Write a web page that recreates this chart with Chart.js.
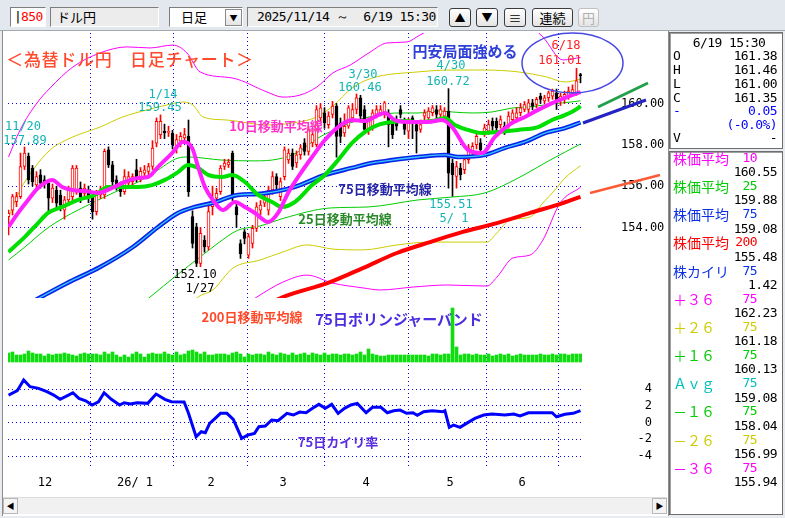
<!DOCTYPE html>
<html lang="ja">
<head>
<meta charset="utf-8">
<title>ドル円 日足チャート</title>
<script src="https://cdn.jsdelivr.net/npm/chart.js@4.4.1/dist/chart.umd.min.js"></script>
<style>
  html, body { margin: 0; padding: 0; }
  body { width: 785px; height: 518px; overflow: hidden; position: relative; background: #e8ecf1;
         font-family: "Noto Sans CJK JP", sans-serif; font-size: 13px; color: #000; }
  .abs { position: absolute; white-space: pre; line-height: 16px; z-index: 6; }
  .num { font-family: "DejaVu Sans Mono", monospace; font-size: 13px; letter-spacing: -0.6px; }
  #toolbar { position: absolute; left: 0; top: 0; width: 785px; height: 30px; background: #e3e8ee; border-bottom: 1px solid #a4a9b0; z-index: 5; }
  .fld { position: absolute; top: 7px; height: 20px; box-sizing: border-box; border: 1px solid; border-color: #7d7d7d #ffffff #ffffff #7d7d7d; }
  .btn { position: absolute; top: 8px; height: 19px; box-sizing: border-box; border: 1px solid #3c3c3c; border-radius: 3px;
         background: linear-gradient(#ffffff, #e4e4e4); text-align: center; line-height: 17px; font-size: 13px; }
  #main { position: absolute; left: 2px; top: 31px; width: 665px; height: 485px; background: #fff; border-left: 1px solid #8c8c8c; border-right: 1px solid #8c8c8c; z-index: 1; }
  #wrap { position: absolute; left: 5px; top: 26px; width: 660px; height: 469px; z-index: 2; }
  #scroll { position: absolute; left: 3px; top: 497px; width: 664px; height: 16px; background: #f1f1f1; border-top: 1px solid #dcdcdc; z-index: 3; }
  .arrow { position: absolute; top: 0; width: 15px; height: 16px; border: 1px solid #b8b8b8; box-sizing: border-box; background: #f4f4f4; font-size: 8px; line-height: 14px; text-align: center; }
  .box { position: absolute; left: 669px; width: 114px; background: #fff; border: 1px solid #6e6e6e; box-shadow: inset 1px 1px 0 #a0a0a0; box-sizing: border-box; z-index: 1; }
  .note { position: absolute; transform: translate(-50%, -50%); white-space: pre; z-index: 6; line-height: 1; }
</style>
</head>
<body>
<div id="toolbar">
  <div class="fld" style="left:10px;width:36px;background:#fff"></div>
  <div class="fld" style="left:50px;width:109px;background:#ececec"></div>
  <div class="fld" style="left:169px;width:74px;background:#fff"></div>
  <div class="btn" style="left:225px;top:9px;width:17px;height:17px;border-radius:0;border-color:#8a8a8a;font-size:8px;line-height:15px">▼</div>
  <div class="fld" style="left:247px;width:191px;background:#ececec"></div>
  <div class="btn" style="left:449px;width:22px;font-size:11px">▲</div>
  <div class="btn" style="left:476px;width:22px;font-size:11px">▼</div>
  <div class="btn" style="left:504px;width:22px">≡</div>
  <div class="btn" style="left:532px;width:41px">連続</div>
  <div class="btn" style="left:578px;width:21px;color:#b0b0b0;border-color:#c0c0c0">円</div>
</div>
<div id="main"></div>
<div id="wrap"><canvas id="chart" width="660" height="469"></canvas></div>
<div id="scroll">
  <div class="arrow" style="left:0">◀</div>
  <div class="arrow" style="right:0">▶</div>
</div>
<div class="box" style="top:32px;height:117px"></div>
<div class="box" style="top:151px;height:364px"></div>
<svg class="abs" style="left:0;top:0;pointer-events:none" width="785" height="518">
  <ellipse cx="572.5" cy="63" rx="50.5" ry="30" fill="none" stroke="#4848e0" stroke-width="1.5"/>
  <line x1="598" y1="107" x2="648" y2="83" stroke="#23a04c" stroke-width="3"/>
  <line x1="583" y1="123" x2="646" y2="100" stroke="#2323c4" stroke-width="3"/>
  <line x1="590" y1="193" x2="660" y2="175" stroke="#ff5a36" stroke-width="2.5"/>
</svg>

<script>
// x axis: months (bar index of each month start)
const monthPos = [9.125, 31.625, 50.625, 68.625, 89.375, 110.375, 128.375];
const monthLabels = ['12', '26/ 1', '2', '3', '4', '5', '6'];
const priceTicks = [160, 158, 156, 154];
const kairiTicks = [4, 2, 0, -2, -4];

// daily candles 2025/11 - 2026/6/19
const open = [154.52,154.84,155.25,155.49,156.95,157.44,156.87,156.06,156.54,156.30,
  156.14,155.41,155.81,155.57,154.84,155.33,155.49,155.81,155.90,155.65,
  155.81,155.49,154.76,155.57,155.57,157.76,157.03,156.30,156.06,155.73,
  156.14,156.22,156.79,156.46,156.63,156.71,156.95,158.08,158.49,158.65,
  158.60,158.57,157.92,158.17,158.33,158.41,154.52,154.03,152.25,153.39,
  153.06,155.00,155.41,155.73,156.95,157.03,157.60,155.00,153.22,153.79,
  152.65,153.22,153.95,154.84,155.17,154.84,155.81,156.46,155.49,156.46,
  157.27,157.60,157.12,157.52,158.09,157.68,158.09,158.01,159.30,159.55,
  158.98,159.47,159.87,159.06,158.57,158.90,159.30,159.71,160.28,159.71,
  158.74,158.90,159.47,159.55,159.55,159.55,159.06,159.22,159.71,159.14,
  158.66,159.30,158.98,158.74,159.39,159.30,159.55,159.71,159.47,159.39,
  159.63,157.12,156.47,156.87,156.79,157.28,157.68,158.01,158.09,158.57,
  158.66,159.14,159.14,158.98,158.90,158.98,159.22,159.30,159.55,159.71,
  159.71,160.03,159.95,160.36,160.12,160.28,160.36,160.52,160.12,160.20,
  160.36,160.52,160.50,161.38];
const high = [154.84,155.60,155.70,157.60,157.89,157.60,157.00,156.70,156.80,156.50,
  156.30,156.10,156.00,155.80,155.50,156.00,157.00,157.00,156.20,156.10,
  156.00,155.70,155.80,156.00,157.80,157.90,157.20,156.50,156.20,156.80,
  156.70,156.60,157.30,156.90,157.00,157.10,158.20,159.30,159.45,159.00,
  158.90,158.70,158.50,158.60,158.80,159.20,154.80,154.20,154.00,153.60,
  155.10,156.00,155.90,157.00,157.30,157.30,157.70,155.20,153.40,153.90,
  153.70,154.10,155.20,155.30,155.70,156.00,156.70,156.60,156.40,157.90,
  157.80,157.80,157.70,158.00,158.30,158.90,158.80,159.90,160.00,159.80,
  159.60,160.10,160.00,159.30,159.50,159.90,160.00,160.46,160.40,159.90,
  159.30,159.70,159.90,159.90,160.10,159.70,159.20,159.40,159.90,159.30,
  159.30,159.40,159.10,159.20,159.70,159.80,159.90,159.90,159.90,159.80,
  160.72,157.30,157.20,157.10,157.50,158.00,158.10,158.60,158.30,159.00,
  159.20,159.30,159.30,159.40,159.10,159.60,159.70,159.80,160.00,160.10,
  160.20,160.20,160.30,160.50,160.40,160.60,160.70,160.70,160.50,160.60,
  160.80,160.90,161.70,161.46];
const low = [153.63,154.60,155.00,155.40,156.80,156.10,156.00,155.90,155.90,155.90,
  154.80,155.20,154.90,154.80,154.40,155.10,155.30,155.60,155.20,155.40,
  155.20,154.40,154.60,155.40,155.40,156.90,156.00,155.80,155.50,155.60,
  155.90,156.00,156.20,156.20,156.40,156.50,156.80,157.90,158.30,158.30,
  158.40,157.80,157.60,157.90,158.20,155.50,153.00,152.10,152.10,152.80,
  152.90,154.60,155.20,155.60,156.80,156.90,155.30,154.00,152.50,153.20,
  152.50,153.00,153.80,154.60,155.00,154.60,155.60,155.80,155.30,156.30,
  157.10,156.80,156.90,157.30,157.50,157.50,157.90,157.90,159.10,158.80,
  158.80,159.30,157.40,158.10,158.40,158.80,159.10,159.50,159.20,158.60,
  158.50,158.70,159.30,159.40,159.30,157.90,158.30,158.70,159.30,158.50,
  158.30,158.30,157.60,158.60,159.20,159.10,159.40,159.30,159.30,159.20,
  155.90,155.51,155.90,156.30,156.60,157.10,157.50,157.80,157.60,158.40,
  158.50,158.70,158.60,158.80,158.50,158.80,159.00,159.10,159.40,159.60,
  159.50,159.70,159.80,160.00,160.00,160.10,160.20,159.71,159.90,160.00,
  160.20,160.40,160.40,161.00];
const close = [154.68,155.49,155.49,156.95,157.60,156.30,156.22,156.46,156.14,156.14,
  155.41,155.90,155.17,155.08,155.33,155.81,156.87,156.87,155.49,155.90,
  155.49,154.76,155.57,155.81,157.68,157.03,156.22,155.98,155.73,156.46,
  156.46,156.46,156.38,156.71,156.79,156.95,157.84,159.14,159.14,158.57,
  158.65,158.00,158.25,158.41,158.49,155.73,153.22,152.25,153.71,153.06,
  154.76,155.33,155.65,156.87,157.11,157.16,155.49,154.60,152.73,153.47,
  153.55,153.95,155.00,155.08,155.49,155.81,156.46,156.06,156.22,157.76,
  157.60,156.95,157.52,157.85,157.68,158.74,158.50,159.71,159.79,159.06,
  159.39,159.87,158.40,158.41,158.90,159.79,159.71,160.28,159.39,158.74,
  159.14,159.55,159.71,159.71,160.03,158.98,158.49,158.90,159.47,158.74,
  159.06,159.06,158.66,158.98,159.55,159.63,159.79,159.47,159.71,159.63,
  156.63,156.55,156.95,156.55,157.28,157.85,157.93,158.41,157.76,158.82,
  158.98,158.90,158.82,159.22,158.66,159.39,159.55,159.55,159.79,159.95,
  160.03,159.87,160.20,160.20,160.28,160.52,160.60,160.20,160.36,160.44,
  160.60,160.68,161.10,161.35];
const volume = [9,10,7,7,8,11,9,8,8,6, 8,7,8,8,9,8,7,6,8,9, 8,8,8,7,10,8,10,7,5,7,
  5,8,10,8,5,8,9,8,8,10, 8,7,10,7,8,11,12,10,8,10, 7,7,8,8,8,7,9,10,8,5,
  8,7,8,8,7,10,8,7,9,8, 7,9,7,8,9,7,9,8,7,9, 7,8,8,7,8,8,7,8,10,7,
  13,8,7,6,6,7,7,7,7,7, 7,7,7,7,7,6,8,8,7,8, 8,54,15,7,8,8,7,8,7,7,
  8,6,7,8,7,8,6,7,8,7, 7,7,7,8,7,7,8,7,8,8, 7,8,8,8];

// moving averages (bar index, price)
const ma10X = [0,2.4,4.9,7.4,10.9,13.4,15.9,19.1,22.4,25.9,29.1,32.4,34.9,37.4,40.9,43.6,45.9,47.4,49.1,51.1,53.6,56.6,59.1,61.6,64.9,67.4,69.9,72.4,75.9,79.1,82.4,85.9,89.1,92.4,94.1,96.6,100.9,104.9,108.4,110.9,114.9,118.4,121.6,125.9,129.1,132.4,135.9,139.1,142.4,143];
const ma10 = [154.02,154.70,155.33,155.91,156.30,155.96,155.81,155.76,155.67,155.91,156.20,156.39,156.44,156.93,157.60,158.14,157.85,156.93,155.96,155.33,154.84,155.23,154.99,154.70,154.26,154.70,155.67,156.44,157.41,158.23,158.86,159.20,159.15,159.44,159.54,159.20,159.10,159.10,159.20,158.86,157.75,157.60,158.38,159.06,159.35,159.69,160.02,160.27,160.51,160.55];
const ma25X = [0,4.1,7.4,9.9,13.4,17.4,21.6,24.9,28.4,32.4,35.9,39.1,42.4,44.9,47.4,49.9,53.4,55.9,59.1,62.4,65.9,68.4,71.6,75.9,79.1,82.4,85.9,89.1,92.4,95.9,99.1,102.4,105.9,109.1,111.6,114.9,118.4,122.4,127.4,132.4,135.9,139.1,142.4,143];
const ma25 = [152.81,153.54,154.21,154.70,154.99,155.33,155.57,155.96,155.96,155.96,156.05,156.30,156.68,157.02,156.88,156.54,156.44,156.54,156.20,155.57,155.23,154.99,155.23,156.05,156.54,157.26,158.09,158.62,158.96,159.10,159.15,159.10,159.15,159.30,158.96,158.72,158.57,158.62,158.72,158.86,159.20,159.44,159.78,159.88];
const ma75X = [0,8.6,14.6,22.9,31.1,37.4,42.4,46.6,50.9,57.4,62.4,67.4,71.6,79.1,85.9,90.9,95.9,102.4,109.1,112.4,119.1,124.1,129.1,134.1,139.1,143];
const ma75 = [149.76,150.68,151.30,152.08,153.05,154.02,154.70,154.99,155.18,155.57,155.62,155.76,155.96,156.54,156.88,157.12,157.26,157.41,157.51,157.41,157.51,157.85,158.14,158.57,158.81,159.08];
const ma200X = [65.4,68.6,80.4,88.6,97.1,105.4,113.6,122.1,130.4,138.6,143];
const ma200 = [150.34,150.63,151.35,152.03,152.76,153.29,153.78,154.21,154.70,155.18,155.48];

// 75-day bollinger bands
const bbP1X = [0,4.1,9.1,14.1,20.9,26.6,32.4,36.6,42.4,44.9,53.4,61.6,67.4,71.9,77.4,82.4,87.4,92.4,97.4,102.4,107.4,110.9,115.9,120.9,125.9,130.9,135.9,140.9,143];
const bbP1 = [152.42,153.05,153.87,154.50,155.18,155.71,156.20,156.68,157.36,157.41,157.26,157.22,157.31,157.60,158.33,158.81,159.20,159.44,159.54,159.54,159.64,159.59,159.54,159.59,159.78,159.85,159.98,160.08,160.13];
const bbP2X = [0,2.9,6.1,10.4,16.1,22.9,28.6,34.6,39.6,43.6,46.1,48.6,54.6,64.6,71.1,77.1,81.1,85.9,90.9,102.4,110.9,119.1,127.4,134.6,139.1,143];
const bbP2 = [154.50,155.81,156.78,157.75,158.38,158.86,159.35,159.69,159.93,160.07,159.93,159.35,159.20,158.96,159.06,159.35,159.88,160.75,161.23,161.53,161.62,161.62,161.53,161.28,161.04,161.18];
const bbP3X = [0,2.9,7.1,10.4,16.1,22.9,29.6,35.4,41.1,44.6,47.9,56.1,64.6,68.6,72.9,77.1,81.1,85.4,90.4,94.6,99.6,102.9,106.6,115.4,125.4,131.6,133.6,138.6,143];
const bbP3 = [157.41,158.72,160.02,160.75,161.77,162.45,162.74,162.69,162.83,162.45,161.53,161.23,160.56,160.31,160.41,160.80,161.48,161.86,162.49,162.93,162.98,163.32,163.66,163.80,163.80,163.56,163.22,162.11,162.23];
const bbM1X = [32.9,35.4,42.1,47.9,52.4,57.4,62.9,69.1,80.4,89.9,102.4,110.9,119.1,127.4,135.4,143];
const bbM1 = [150.24,150.63,151.69,152.57,153.24,153.87,154.07,154.46,154.94,154.99,155.33,155.47,155.67,156.39,157.26,158.04];
const bbM2X = [45.4,47.4,51.1,56.1,62.9,68.6,74.6,81.1,88.6,97.1,105.4,119.6,122.1,125.4,130.4,133.6,136.6,139.1,143];
const bbM2 = [150.24,150.63,150.97,152.03,152.42,152.81,153.15,152.95,152.91,153.15,153.29,153.29,153.73,154.36,154.50,155.18,155.81,156.39,156.99];
const bbM3X = [59.1,62.1,68.6,74.6,81.1,88.6,92.9,101.1,109.6,119.6,122.1,126.1,130.4,133.6,137.9,143];
const bbM3 = [150.24,150.63,151.35,151.69,151.30,151.07,150.97,151.11,151.21,151.16,151.59,152.52,152.66,153.39,155.18,155.94];

// 75-day deviation rate (%)
const kairiX = [0,2.2,3.8,5.4,7.5,9.6,11.3,12.9,15,16.1,17.6,19.3,20.9,22.5,23.9,25.7,27.8,28.9,30.5,32.1,
  34.8,36.9,39.1,40.7,43.9,45,46.9,48.2,49.2,50.3,51.4,53,54.6,56.2,58.3,59.9,61.5,62.6,64.2,65.8,
  67.4,69.6,71.2,72.8,74.4,76,77.6,79.2,80.8,82.4,84,85.6,87.2,89.4,91,93.1,94.7,96.3,97.9,99.5,
  101.1,102.2,103.8,105.9,108.6,109.1,110.2,111.3,112.9,114.5,116.6,118.8,120.9,124.1,126.3,127.9,130,132.7,135.9,137,
  139.1,141.2,143];
const kairi = [3.28,3.80,5.07,4.28,4.08,3.68,3.28,2.77,3.28,3.56,2.89,2.60,2.09,2.48,3.56,2.77,2.09,2.36,2.21,2.36,
  2.29,3.40,2.77,2.48,2.45,1.10,-1.70,-1.10,-1.22,-0.10,0.38,1.10,1.10,0.38,-1.89,-1.49,-1.29,-0.50,-0.42,0.30,
  0.21,1.10,0.90,1.25,1.17,1.70,2.17,1.70,2.17,1.10,1.70,2.09,2.29,1.17,1.81,1.81,1.17,1.41,1.49,1.10,
  1.17,0.86,1.29,1.41,1.29,1.41,-0.57,-0.30,-0.57,-0.10,0.50,0.90,1.01,0.90,1.01,0.78,1.17,1.17,1.17,0.69,
  0.98,1.10,1.42];

// side panel
const quote = [['O', '161.38'], ['H', '161.46'], ['L', '161.00'], ['C', '161.35']];
const sideRows = [
  ['株価平均', '10', '160.55', '#ff00ff'],
  ['株価平均', '25', '159.88', '#00cc00'],
  ['株価平均', '75', '159.08', '#0a2fe6'],
  ['株価平均', '200', '155.48', '#ff0000'],
  ['株カイリ', '75', '1.42', '#0a2fe6'],
  ['＋３６', '75', '162.23', '#ff00ff'],
  ['＋２６', '75', '161.18', '#cccc00'],
  ['＋１６', '75', '160.13', '#00cc00'],
  ['Ａｖｇ', '75', '159.08', '#00c0c0'],
  ['－１６', '75', '158.04', '#00cc00'],
  ['－２６', '75', '156.99', '#cccc00'],
  ['－３６', '75', '155.94', '#ff00ff'],
];

function put(text, x, y, o = {}) {
  const d = document.createElement('div');
  d.textContent = text;
  d.className = 'abs' + (o.cls ? ' ' + o.cls : '');
  d.style.top = (y - 8) + 'px';
  if (o.align === 'right') d.style.right = (785 - x) + 'px';
  else if (o.align === 'center') { d.style.left = x + 'px'; d.style.transform = 'translateX(-50%)'; }
  else d.style.left = x + 'px';
  if (o.color) d.style.color = o.color;
  if (o.size) d.style.fontSize = o.size;
  document.body.appendChild(d);
}

// toolbar texts
put('|', 14, 17, { cls: 'num' });
put('850', 21, 17, { cls: 'num', color: '#ff0000' });
put('ドル円', 57, 17);
put('日足', 194, 17, { align: 'center' });
put('2025/11/14 ～  6/19 15:30', 257, 17, { cls: 'num' });

// quote box
put('6/19 15:30', 729, 43, { cls: 'num', align: 'center' });
quote.forEach(([k, v], i) => {
  put(k, 673, 56 + i * 14, { cls: 'num' });
  put(v, 777, 56 + i * 14, { cls: 'num', align: 'right' });
});
put('-', 673, 111, { cls: 'num', color: '#0000ff' });
put('0.05', 777, 111, { cls: 'num', align: 'right', color: '#0000ff' });
put('(-0.0%)', 777, 125, { cls: 'num', align: 'right', color: '#0000ff' });
put('V', 673, 138, { cls: 'num' });
put('-', 777, 138, { cls: 'num', align: 'right' });

// indicator box
sideRows.forEach(([name, n, v, c], i) => {
  const y = 158 + i * 28.15;
  put(name, 673, y, { color: c, size: '14px' });
  put(n, 757, y, { cls: 'num', align: 'right', color: c });
  put(v, 777, y + 14.3, { cls: 'num', align: 'right' });
});

// chart annotations (text)
const mono = '12px "DejaVu Sans Mono"';
const cjkB = 'bold 13px "Noto Sans CJK JP"';
const notes = [
  ['＜為替ドル円　日足チャート＞', 130, 58, '#ff4a2e', '500 17px "Noto Sans CJK JP"', '0.7px'],
  ['円安局面強める', 465, 50, '#2e3fd8', 'bold 15px "Noto Sans CJK JP"'],
  ['6/18', 566, 45, '#ff2020', mono],
  ['161.01', 560, 60, '#ff2020', mono],
  ['11/20', 23, 126, '#14b4b4', mono],
  ['157.89', 25, 140, '#14b4b4', mono],
  ['1/14', 163, 94, '#14b4b4', mono],
  ['159.45', 160, 107, '#14b4b4', mono],
  ['3/30', 363, 74, '#14b4b4', mono],
  ['160.46', 360, 87, '#14b4b4', mono],
  ['4/30', 451, 65, '#14b4b4', mono],
  ['160.72', 448, 81, '#14b4b4', mono],
  ['155.51', 451, 204, '#14b4b4', mono],
  ['5/ 1', 454, 218, '#14b4b4', mono],
  ['152.10', 195, 274, '#000000', mono],
  ['1/27', 200, 288, '#000000', mono],
  ['10日移動平均線', 276, 125, '#ff33cc', cjkB],
  ['75日移動平均線', 385, 188, '#2525a5', cjkB],
  ['25日移動平均線', 345, 218, '#2a8a2a', cjkB],
  ['200日移動平均線', 252, 316, '#ff4a2a', cjkB],
  ['75日ボリンジャーバンド', 399, 318, '#4a2ee0', 'bold 15px "Noto Sans CJK JP"'],
  ['75日カイリ率', 338, 441, '#5a2ee0', cjkB],
];
notes.forEach(([t, x, y, c, f, ls]) => {
  const d = document.createElement('div');
  d.className = 'note';
  d.textContent = t;
  d.style.left = x + 'px';
  d.style.top = y + 'px';
  d.style.color = c;
  d.style.font = f;
  if (ls) d.style.letterSpacing = ls;
  document.body.appendChild(d);
});

// ---- chart ----
Chart.defaults.font.family = '"DejaVu Sans Mono", monospace';
Chart.defaults.font.size = 12;
Chart.defaults.color = '#000';

const idx = open.map((_, i) => i);
const up = close.map((c, i) => c >= open[i]);
const pts = (xs, ys) => xs.map((x, i) => ({ x, y: ys[i] }));
const paneClip = { left: 0, top: 0, right: 0, bottom: -169 }; // price pane ends above volume

function priceLine(xs, ys, color, width, order) {
  return {
    type: 'line', data: pts(xs, ys), yAxisID: 'y', borderColor: color, borderWidth: width,
    pointRadius: 0, cubicInterpolationMode: 'monotone', order, clip: paneClip
  };
}

const dotted = { display: false, dash: [1, 3] };

const kairiLabels = {
  id: 'kairiLabels',
  afterDraw(chart) {
    const s = chart.scales.yk, ctx = chart.ctx;
    ctx.save();
    ctx.font = '12px "DejaVu Sans Mono"';
    ctx.fillStyle = '#000';
    ctx.textAlign = 'right';
    ctx.textBaseline = 'middle';
    kairiTicks.forEach(v => ctx.fillText(String(v), chart.chartArea.right + 70, s.getPixelForValue(v)));
    ctx.restore();
  }
};

new Chart(document.getElementById('chart'), {
  type: 'line',
  data: {
    datasets: [
      // bollinger bands
      priceLine(bbP3X, bbP3, '#ff00ff', 1, 60),
      priceLine(bbP2X, bbP2, '#cccc00', 1, 60),
      priceLine(bbP1X, bbP1, '#00cc00', 1, 60),
      priceLine(bbM1X, bbM1, '#00cc00', 1, 60),
      priceLine(bbM2X, bbM2, '#cccc00', 1, 60),
      priceLine(bbM3X, bbM3, '#ff00ff', 1, 60),
      // candles
      {
        type: 'bar', data: idx.map(i => ({ x: i, y: [low[i], high[i]] })), yAxisID: 'y',
        barThickness: 1, grouped: false, borderWidth: 0,
        backgroundColor: up.map(u => u ? '#ff0000' : '#000000'), order: 50
      },
      {
        type: 'bar', data: idx.map(i => ({ x: i, y: [open[i], close[i]] })), yAxisID: 'y',
        barThickness: 3, grouped: false, borderWidth: 1, borderSkipped: false, minBarLength: 1,
        backgroundColor: up.map(u => u ? '#ffffff' : '#000000'),
        borderColor: up.map(u => u ? '#ff0000' : '#000000'), order: 45
      },
      // volume
      {
        type: 'bar', data: idx.map(i => ({ x: i, y: volume[i] })), yAxisID: 'yv',
        barThickness: 3, grouped: false, backgroundColor: '#10dd10', order: 55
      },
      // moving averages
      priceLine(ma200X, ma200, '#ff0000', 4, 20),
      priceLine(ma75X, ma75, '#0a22e8', 4.5, 16),
      priceLine(ma75X, ma75, '#38c8ff', 1.3, 15),
      priceLine(ma25X, ma25, '#00e000', 4, 12),
      priceLine(ma10X, ma10, '#ff22ff', 4, 10),
      // deviation rate
      {
        type: 'line', data: pts(kairiX, kairi), yAxisID: 'yk', borderColor: '#0000ff', borderWidth: 3,
        pointRadius: 0, tension: 0, order: 5
      }
    ]
  },
  options: {
    responsive: false,
    animation: false,
    events: [],
    layout: { padding: { left: 3, top: 7, right: 0, bottom: 0 } },
    plugins: { legend: { display: false }, tooltip: { enabled: false } },
    scales: {
      x: {
        type: 'linear', min: -0.125, max: 143.375, offset: false,
        afterBuildTicks: s => { s.ticks = monthPos.map(v => ({ value: v })); },
        afterFit: s => { s.height = 28; s.paddingLeft = 0; s.paddingRight = 0; },
        ticks: { autoSkip: false, maxRotation: 0, padding: 9, callback: (v, i) => monthLabels[i] },
        grid: { color: '#0000ff', drawTicks: false },
        border: dotted
      },
      y: {
        position: 'right', weight: 0, min: 142.397, max: 163.414,
        afterBuildTicks: s => { s.ticks = priceTicks.map(v => ({ value: v })); },
        afterFit: s => { s.width = 83; s.paddingTop = 0; s.paddingBottom = 0; },
        ticks: { padding: 0, callback: v => v.toFixed(2) },
        grid: { color: '#0000ff', drawTicks: true, tickLength: 39, tickColor: 'rgba(0,0,0,0)' },
        border: dotted
      },
      yk: {
        position: 'right', weight: 1, min: -5.31, max: 46.51,
        afterBuildTicks: s => { s.ticks = kairiTicks.map(v => ({ value: v })); },
        afterFit: s => { s.width = 0; s.paddingTop = 0; s.paddingBottom = 0; },
        ticks: { display: false },
        grid: { color: '#0000ff', drawTicks: false },
        border: dotted
      },
      yv: { display: false, min: -105, max: 329 }
    }
  },
  plugins: [kairiLabels]
});
</script>
</body>
</html>
